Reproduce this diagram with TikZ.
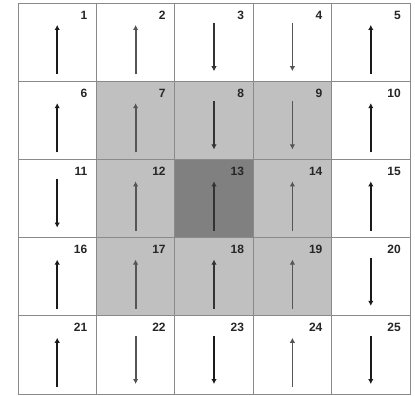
\documentclass[tikz,border=0pt]{standalone}
\usepackage{fontspec}
\setmainfont{Liberation Sans}
\usetikzlibrary{arrows.meta}
\definecolor{lg}{HTML}{C0C0C0}
\definecolor{dg}{HTML}{808080}
\definecolor{gridc}{HTML}{8A8A8A}
\definecolor{ablack}{HTML}{1A1A1A}
\definecolor{agray}{HTML}{555555}
\definecolor{adark}{HTML}{333333}
\begin{document}
\begin{tikzpicture}[x=1pt,y=-1pt,
  cell/.style={draw=gridc,line width=0.8pt,minimum width=78.4pt,minimum height=78.2pt,inner sep=0pt,outer sep=0pt,anchor=north west},
  num/.style={font=\bfseries\fontsize{12}{12}\selectfont,text=black!85,anchor=east,inner sep=0pt},
  arr/.style={line width=1.8pt,-{Latex[length=5pt,width=5.5pt]}}]
\useasboundingbox (0,0) rectangle (415,396);
\fill[white] (0,0) rectangle (415,396);
\foreach \n/\f/\d/\c in {
 1/white/u/ablack, 2/white/u/agray, 3/white/d/adark, 4/white/d/agray, 5/white/u/ablack,
 6/white/u/ablack, 7/lg/u/agray, 8/lg/d/adark, 9/lg/d/agray, 10/white/u/ablack,
 11/white/d/ablack, 12/lg/u/agray, 13/dg/u/adark, 14/lg/u/agray, 15/white/u/ablack,
 16/white/u/ablack, 17/lg/u/agray, 18/lg/u/adark, 19/lg/u/agray, 20/white/d/ablack,
 21/white/u/ablack, 22/white/d/agray, 23/white/d/ablack, 24/white/u/agray, 25/white/d/ablack}{
  \pgfmathtruncatemacro{\col}{mod(\n-1,5)}
  \pgfmathtruncatemacro{\row}{div(\n-1,5)}
  \node[cell,fill=\f] (c\n) at ({18+78.4*\col},{3+78.2*\row}) {};
  \node[num] (n\n) at ([xshift=-9pt,yshift=-12pt]c\n.north east) {\n};
  \coordinate (t\n) at ([yshift=-22pt]c\n.north);
  \coordinate (b\n) at ([yshift=7pt]c\n.south);
  \coordinate (td\n) at ([yshift=-20pt]c\n.north);
  \coordinate (bd\n) at ([yshift=10pt]c\n.south);
  \if\d u
    \draw[arr,draw=\c,fill=\c] (b\n) -- (t\n);
  \else
    \draw[arr,draw=\c,fill=\c] (td\n) -- (bd\n);
  \fi
}
\end{tikzpicture}
\end{document}
